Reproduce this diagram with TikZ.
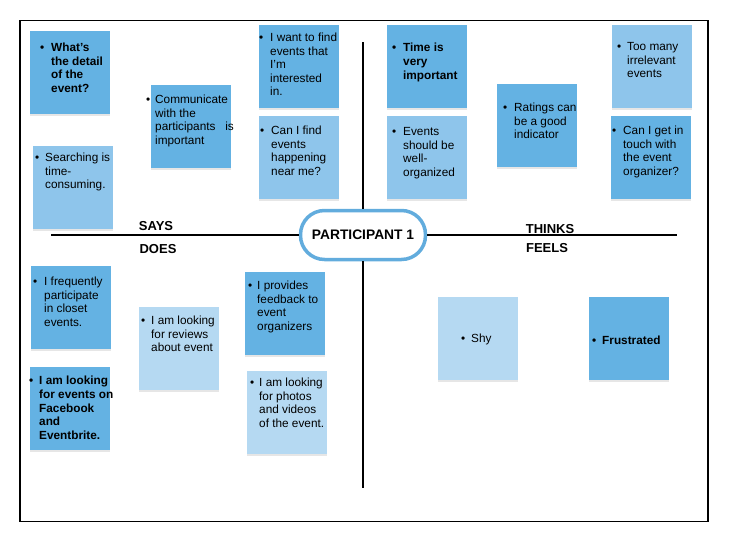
\documentclass[tikz,border=0pt]{standalone}
\usepackage{fontspec}
\setmainfont{Liberation Sans}
\usetikzlibrary{shadows}

\definecolor{notedark}{HTML}{64B2E3}
\definecolor{notemid}{HTML}{8EC5EB}
\definecolor{notelight}{HTML}{B5D9F2}
\definecolor{ringblue}{HTML}{62ACDD}

% bullet offset, gap to text, top offset, lines
\newcommand{\sticky}[4]{%
  \vbox to 83pt{\hsize=80pt\vskip#3
    \hbox to 80pt{\hskip#1\makebox[#2][l]{\textbullet}%
      \begin{tabular}[t]{@{}l@{}}#4\end{tabular}\hss}\vfil}}

\begin{document}
\begin{tikzpicture}[x=1pt,y=-1pt,
  note/.style={rectangle, inner sep=0pt, anchor=north west,
    font=\fontsize{11.8}{13.6}\selectfont,
    drop shadow={shadow xshift=0pt, shadow yshift=-1.5pt, opacity=0.2}},
  boldnote/.style={note, font=\fontsize{11.8}{13.8}\selectfont\bfseries},
  quad/.style={font=\fontsize{13}{15}\selectfont\bfseries, anchor=base, inner sep=0pt}]
  \useasboundingbox (0,0) rectangle (738,557);
  \draw[line width=1.8pt] (20,20.5) rectangle (708,521.5);

  % axes and centre
  \coordinate (hl) at (51,235);
  \coordinate (hr) at (677,235);
  \coordinate (vt) at (363,42);
  \coordinate (vb) at (363,488);
  \node[draw=ringblue, line width=3.5pt, fill=white, rounded corners=24pt,
    minimum width=125pt, minimum height=49pt,
    font=\fontsize{13.8}{15}\selectfont\bfseries] (p1) at (363,235) {PARTICIPANT 1};
  \draw[line width=1.5pt] (hl) -- (p1.west) (p1.east) -- (hr);
  \draw[line width=1.5pt] (vt) -- (p1.north) (p1.south) -- (vb);

  \node[quad] (says) at (156,230) {SAYS};
  \node[quad] (does) at (158,253) {DOES};
  \node[quad] (thinks) at (550,233) {THINKS};
  \node[quad] (feels) at (547,252.5) {FEELS};

  % says
  \node[boldnote, fill=notedark] (detail) at (30,31)
    {\sticky{10pt}{11pt}{10.5pt}{What's\\the detail\\of the\\event?}};
  \node[note, fill=notemid] (searching) at (33,146)
    {\sticky{2pt}{10pt}{5.7pt}{Searching is\\time-\\consuming.}};
  \node[note, fill=notedark] (communicate) at (151,85)
    {\sticky{-5pt}{9pt}{8.7pt}{Communicate\\with the\\participants\ \ \ is\\important}};
  \node[note, fill=notedark] (interest) at (259,25)
    {\sticky{0pt}{11pt}{6.7pt}{I want to find\\events that\\I'm\\interested\\in.}};
  \node[note, fill=notemid] (nearme) at (259,116)
    {\sticky{1pt}{11pt}{8.7pt}{Can I find\\events\\happening\\near me?}};

  % thinks
  \node[boldnote, fill=notedark] (time) at (387,25)
    {\sticky{5pt}{11pt}{16.7pt}{Time is\\very\\important}};
  \node[note, fill=notemid] (organized) at (387,116)
    {\sticky{5pt}{11pt}{9.7pt}{Events\\should be\\well-\\organized}};
  \node[note, fill=notedark] (ratings) at (497,84)
    {\sticky{6pt}{11pt}{17.7pt}{Ratings can\\be a good\\indicator}};
  \node[note, fill=notemid] (irrelevant) at (612,25)
    {\sticky{5pt}{10pt}{15.7pt}{Too many\\irrelevant\\events}};
  \node[note, fill=notedark] (touch) at (611,116)
    {\sticky{1pt}{11pt}{8.7pt}{Can I get in\\touch with\\the event\\organizer?}};

  % does
  \node[note, fill=notedark] (closet) at (31,266)
    {\sticky{2pt}{11pt}{9.7pt}{I frequently\\participate\\in closet\\events.}};
  \node[boldnote, fill=notedark] (facebook) at (30,367)
    {\sticky{-1pt}{10pt}{7.7pt}{I am looking\\for events on\\Facebook\\and\\Eventbrite.}};
  \node[note, fill=notelight] (reviews) at (139,307)
    {\sticky{2pt}{10pt}{7.7pt}{I am looking\\for reviews\\about event}};
  \node[note, fill=notedark] (feedback) at (245,272)
    {\sticky{3pt}{9pt}{7.7pt}{I provides\\feedback to\\event\\organizers}};
  \node[note, fill=notelight] (photos) at (247,371)
    {\sticky{3pt}{9pt}{5.7pt}{I am looking\\for photos\\and videos\\of the event.}};

  % feels
  \node[note, fill=notelight] (shy) at (438,297)
    {\sticky{23pt}{10pt}{35.7pt}{Shy}};
  \node[boldnote, fill=notedark] (frustrated) at (589,297)
    {\sticky{3pt}{10pt}{37.7pt}{Frustrated}};
\end{tikzpicture}
\end{document}
